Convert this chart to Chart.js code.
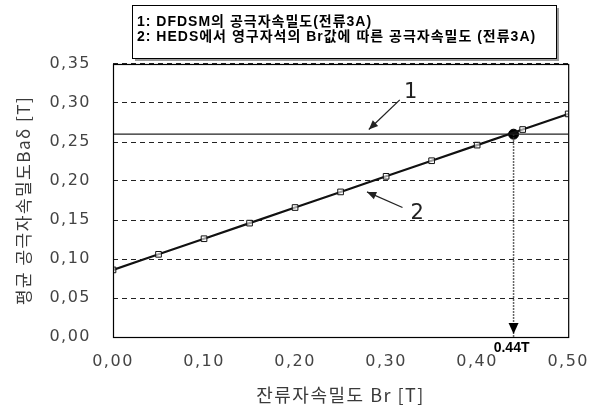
<!DOCTYPE html>
<html><head><meta charset="utf-8">
<script src="https://cdn.jsdelivr.net/npm/chart.js@4/dist/chart.umd.min.js"></script>
<style>html,body{margin:0;padding:0;background:#fff}#wrap{width:601px;height:406px}</style>
</head><body><div id="wrap"><canvas id="c" width="601" height="406"></canvas></div>
<script>
const brValues = [0.00,0.05,0.10,0.15,0.20,0.25,0.30,0.35,0.40,0.45,0.50];
const hedsValues = [0.086,0.106,0.126,0.146,0.166,0.186,0.206,0.226,0.246,0.266,0.286];
const dfdsmValue = 0.26;
const crossBr = 0.44;
const yTickLabels = ['0,00','0,05','0,10','0,15','0,20','0,25','0,30','0,35'];
const xTickLabels = ['0,00','0,10','0,20','0,30','0,40','0,50'];
const legendLines = ['1: DFDSM의 공극자속밀도(전류3A)','2: HEDS에서 영구자석의 Br값에 따른 공극자속밀도 (전류3A)'];
const crossLabel = '0.44T';
const xTitle = '잔류자속밀도 Br [T]';
const yTitle = '평균 공극자속밀도Baδ [T]';

const KR = '"Noto Sans CJK KR", sans-serif';
const NUM = '"DejaVu Sans", "Noto Sans CJK KR", sans-serif';

const spacing = {
  id:'spacing',
  beforeDraw(chart){ chart.ctx.letterSpacing='1.5px'; },
  afterDraw(chart){ chart.ctx.letterSpacing='0px'; }
};

const deco = {
  id:'deco',
  afterDraw(chart){
    const {ctx, chartArea:a, scales:{x,y}} = chart;
    ctx.save();
    ctx.letterSpacing='0px';
    // plot box
    ctx.strokeStyle='#000'; ctx.lineWidth=1.2; ctx.setLineDash([]);
    ctx.strokeRect(a.left+0.5, a.top+0.5, a.right-a.left, a.bottom-a.top);
    // arrow head for dotted line
    const px = x.getPixelForValue(crossBr);
    const tip = y.getPixelForValue(0)-3;
    ctx.fillStyle='#000';
    ctx.beginPath(); ctx.moveTo(px,tip); ctx.lineTo(px-5,tip-11); ctx.lineTo(px+5,tip-11); ctx.closePath(); ctx.fill();
    // 0.44T label
    ctx.font='bold 14px "Liberation Sans", Arial, sans-serif';
    ctx.textAlign='center'; ctx.textBaseline='middle';
    ctx.fillText(crossLabel, px-2, y.getPixelForValue(0)+11);
    // annotation arrows
    function arrow(x1,y1,x2,y2){
      const X1=x.getPixelForValue(x1),Y1=y.getPixelForValue(y1),X2=x.getPixelForValue(x2),Y2=y.getPixelForValue(y2);
      ctx.strokeStyle='#222'; ctx.fillStyle='#222';
      ctx.lineWidth=1.3; ctx.beginPath(); ctx.moveTo(X1,Y1); ctx.lineTo(X2,Y2); ctx.stroke();
      const ang=Math.atan2(Y2-Y1,X2-X1), L=10, W=0.4;
      ctx.beginPath(); ctx.moveTo(X2,Y2);
      ctx.lineTo(X2-L*Math.cos(ang-W),Y2-L*Math.sin(ang-W));
      ctx.lineTo(X2-L*Math.cos(ang+W),Y2-L*Math.sin(ang+W)); ctx.closePath(); ctx.fill();
    }
    arrow(0.315,0.304,0.281,0.266);
    arrow(0.318,0.166,0.279,0.186);
    ctx.font='21px "DejaVu Sans", sans-serif';
    ctx.fillStyle='#222';
    ctx.fillText('1', x.getPixelForValue(0.327), y.getPixelForValue(0.313));
    ctx.fillText('2', x.getPixelForValue(0.334), y.getPixelForValue(0.158));
    // legend box
    const bx=132,by=5,bw=424,bh=53;
    ctx.fillStyle='#9a9a9a'; ctx.fillRect(bx+3,by+3,bw,bh);
    ctx.fillStyle='#fff'; ctx.fillRect(bx,by,bw,bh);
    ctx.strokeStyle='#000'; ctx.lineWidth=1; ctx.strokeRect(bx+0.5,by+0.5,bw,bh);
    ctx.fillStyle='#000'; ctx.textAlign='left';
    ctx.letterSpacing='1px';
    ctx.font='bold 14px "Liberation Sans", '+KR;
    const ys=[22,37];
    legendLines.forEach((t,i)=>ctx.fillText(t,137,ys[i]));
    ctx.restore();
  }
};

new Chart(document.getElementById('c'),{
  type:'line',
  data:{datasets:[
    {data:brValues.map((b,i)=>({x:b,y:hedsValues[i]})),borderColor:'#111',borderWidth:2.2,
     pointStyle:'rect',pointRadius:4,pointBorderWidth:1,pointBorderColor:'#111',pointBackgroundColor:'rgba(255,255,255,0.6)'},
    {data:[{x:brValues[0],y:dfdsmValue},{x:brValues[brValues.length-1],y:dfdsmValue}],borderColor:'#222',borderWidth:1.2,pointRadius:0},
    {data:[{x:crossBr,y:dfdsmValue},{x:crossBr,y:0}],borderColor:'#333',borderWidth:1.5,borderDash:[1.5,1.5],pointRadius:0},
    {data:[{x:crossBr,y:dfdsmValue}],pointRadius:5,pointBackgroundColor:'#000',pointBorderColor:'#000',showLine:false}
  ]},
  options:{
    responsive:false,animation:false,
    plugins:{legend:{display:false},tooltip:{enabled:false}},
    layout:{padding:{top:64,right:31,left:0,bottom:0}},
    scales:{
      x:{type:'linear',min:0,max:0.5,
        afterFit(s){s.height=69;},
        afterBuildTicks(s){s.ticks=xTickLabels.map((_,i)=>({value:i*0.1}));},
        ticks:{padding:15,color:'#444',font:{family:NUM,size:16},callback:(v,i)=>xTickLabels[i],maxRotation:0},
        grid:{display:false,drawTicks:false},
        border:{display:false},
        title:{display:true,text:xTitle,color:'#3a3a3a',font:{family:KR,size:18},padding:{top:0,bottom:0}}
      },
      y:{min:0,max:0.35,
        afterFit(s){s.width=113;},
        afterBuildTicks(s){s.ticks=yTickLabels.map((_,i)=>({value:i*0.05}));},
        ticks:{padding:22,color:'#444',font:{family:NUM,size:16},callback:(v,i)=>yTickLabels[i]},
        grid:{color:'#222',lineWidth:1,drawTicks:false},
        border:{display:false,dash:[5,4]},
        title:{display:true,text:yTitle,color:'#3a3a3a',font:{family:KR,size:17},padding:{top:13,bottom:0}}
      }
    }
  },
  plugins:[spacing,deco]
});
</script></body></html>
